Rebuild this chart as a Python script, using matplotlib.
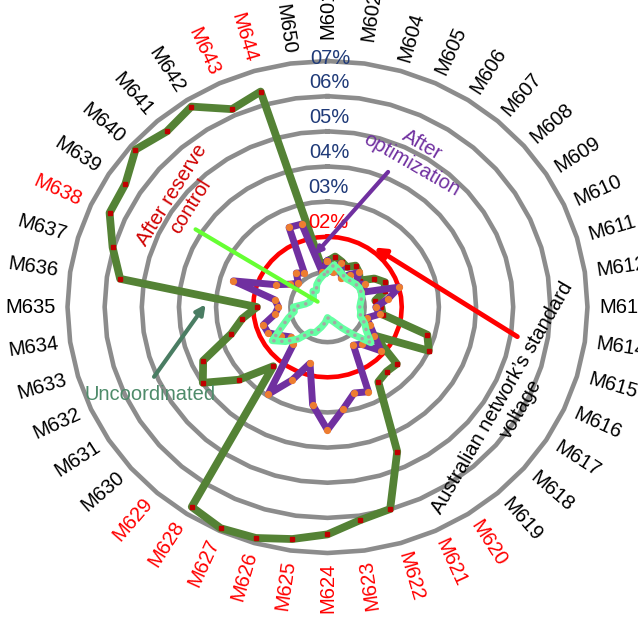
import numpy as np
import matplotlib.pyplot as plt

plt.rcParams['font.family'] = ['Liberation Sans', 'DejaVu Sans']

# feeders around the radar, clockwise from the top
categories = ['M601', 'M602', 'M604', 'M605', 'M606', 'M607', 'M608', 'M609', 'M610', 'M611',
              'M612', 'M613', 'M614', 'M615', 'M616', 'M617', 'M618', 'M619', 'M620', 'M621',
              'M622', 'M623', 'M624', 'M625', 'M626', 'M627', 'M628', 'M629', 'M630', 'M631',
              'M632', 'M633', 'M634', 'M635', 'M636', 'M637', 'M638', 'M639', 'M640', 'M641',
              'M642', 'M643', 'M644', 'M650']
red_categories = ['M620', 'M621', 'M622', 'M623', 'M624', 'M625', 'M626', 'M627', 'M628',
                  'M629', 'M638', 'M643', 'M644']

# voltage deviation (%)
uncoordinated = [1.3, 1.45, 1.35, 1.25, 1.4, 1.3, 1.15, 1.5, 1.7, 1.6, 1.3, 1.45, 1.5, 2.8,
                 3.0, 1.5, 2.47, 2.43, 2.53, 4.52, 5.99, 6.13, 6.47, 6.67, 6.85, 6.92, 6.76,
                 2.23, 3.16, 3.99, 3.68, 2.70, 2.32, 1.90, 5.64, 6.03, 6.45, 6.47, 6.84, 6.61,
                 6.78, 6.19, 6.39, 1.2]
after_optimization = [1.3, 1.0, 1.3, 0.9, 1.1, 1.3, 1.0, 1.2, 1.0, 2.02, 1.65, 1.3, 1.42, 1.1,
                      1.26, 1.5, 1.9, 1.4, 1.29, 2.65, 2.55, 2.94, 3.5, 2.81, 1.67, 2.28, 2.95,
                      1.4, 1.3, 1.5, 1.76, 1.8, 1.43, 1.32, 1.43, 2.64, 1.53, 1.2, 1.04, 1.28,
                      1.15, 2.49, 2.46, 1.0]
after_reserve_control = [1.0, 1.21, 1.1, 1.0, 0.95, 0.97, 1.0, 1.02, 1.0, 0.96, 0.9, 0.87, 0.9,
                         0.92, 1.1, 1.24, 1.55, 1.02, 0.7, 0.5, 0.4, 0.35, 0.3, 0.45, 0.6, 0.8,
                         0.85, 1.2, 1.5, 1.77, 1.35, 1.1, 0.9, 0.92, 0.6, 0.5, 0.5, 0.45, 0.5,
                         0.6, 0.55, 0.7, 0.8, 0.9]

ring_levels = [1, 2, 3, 4, 5, 6, 7]
standard_level = 2
ring_labels = ['02%', '03%', '04%', '05%', '06%', '07%']
ring_label_levels = [2, 3, 4, 5, 6, 7]

n = len(categories)
theta = np.arange(n) * 2 * np.pi / n
theta_closed = np.append(theta, theta[0])


def closed(values):
    return np.append(values, values[0])


fig = plt.figure(figsize=(6.38, 6.19), dpi=100)
ax = fig.add_axes([0.1058, 0.1066, 0.815, 0.7948], projection='polar')
ax.set_theta_zero_location('N')
ax.set_theta_direction(-1)
ax.set_ylim(0, 7)
ax.set_aspect('auto')
ax.set_axis_off()

for lvl in ring_levels:
    if lvl == standard_level:
        continue
    ax.plot(theta_closed, [lvl] * (n + 1), color='#8C8C8C', lw=3.3, zorder=1, clip_on=False)
ax.plot(theta_closed, [standard_level] * (n + 1), color='#FF0000', lw=3.3, zorder=2)

ax.plot(theta_closed, closed(uncoordinated), color='#548235', lw=5.6, marker='s', ms=3.2,
        mfc='#C00000', mec='#C00000', zorder=3, clip_on=False)
ax.plot(theta_closed, closed(after_optimization), color='#7030A0', lw=5, marker='o', ms=4.2,
        mfc='#ED7D31', mec='#ED7D31', zorder=4)
ax.plot(theta_closed, closed(after_reserve_control), color='#66FFA3', lw=5, zorder=5)
ax.plot(theta_closed, closed(after_reserve_control), color='#A6A6A6', lw=2.6,
        ls=(0, (0.01, 2.2)), dash_capstyle='round', zorder=6)

for lvl, lab in zip(ring_label_levels, ring_labels):
    r = lvl + 0.08 if lvl == 7 else lvl + 0.4
    ax.text(0.01, r, lab, ha='center', va='center', fontsize=14.5, zorder=7,
            color='#FF0000' if lvl == standard_level else '#1F3A78')

for i, (t, cat) in enumerate(zip(theta, categories)):
    deg = np.degrees(t)
    rot = 90 - deg if deg < 168 else 270 - deg
    r = 8.35 if i < 2 else 8.0
    ax.text(t, r, cat, rotation=rot, rotation_mode='anchor', ha='center', va='center',
            fontsize=14.5, color='#FF0000' if cat in red_categories else 'black')

# annotations
ax.annotate('', xy=(np.radians(299), 0.23), xytext=(np.radians(301.9), 4.26),
            arrowprops=dict(arrowstyle='-', color='#66FF33', lw=3), zorder=8)
ax.text(np.radians(307.5), 4.96, 'After reserve\ncontrol', rotation=58, rotation_mode='anchor',
        ha='center', va='center', multialignment='center', fontsize=14.5, color='#D00000')

ax.annotate('', xy=(np.radians(-15.4), 1.48), xytext=(np.radians(23.3), 4.25),
            arrowprops=dict(arrowstyle='-|>', color='#7030A0', lw=3, mutation_scale=10), zorder=8)
ax.text(np.radians(29), 4.95, 'After\noptimization', rotation=-30, rotation_mode='anchor',
        ha='center', va='center', multialignment='center', fontsize=14.5, color='#7030A0')

ax.annotate('', xy=(np.radians(272.5), 3.24), xytext=(np.radians(246.5), 5.14),
            arrowprops=dict(arrowstyle='-|>', color='#4A7D63', lw=3, mutation_scale=14), zorder=8)
ax.text(np.radians(242.5), 5.38, 'Uncoordinated', ha='center', va='center',
        fontsize=14.5, color='#4E8B6A')

ax.annotate('', xy=(np.radians(34.6), 2.11), xytext=(np.radians(99.7), 5.25),
            arrowprops=dict(arrowstyle='-|>', color='#FF0000', lw=3.5, mutation_scale=16), zorder=8)
ax.text(np.radians(119), 5.68, 'Australian network\u2019s standard\nvoltage', rotation=60,
        rotation_mode='anchor', ha='center', va='center', multialignment='center',
        fontsize=14.5, color='black')

fig.savefig('out.png', dpi=100)
